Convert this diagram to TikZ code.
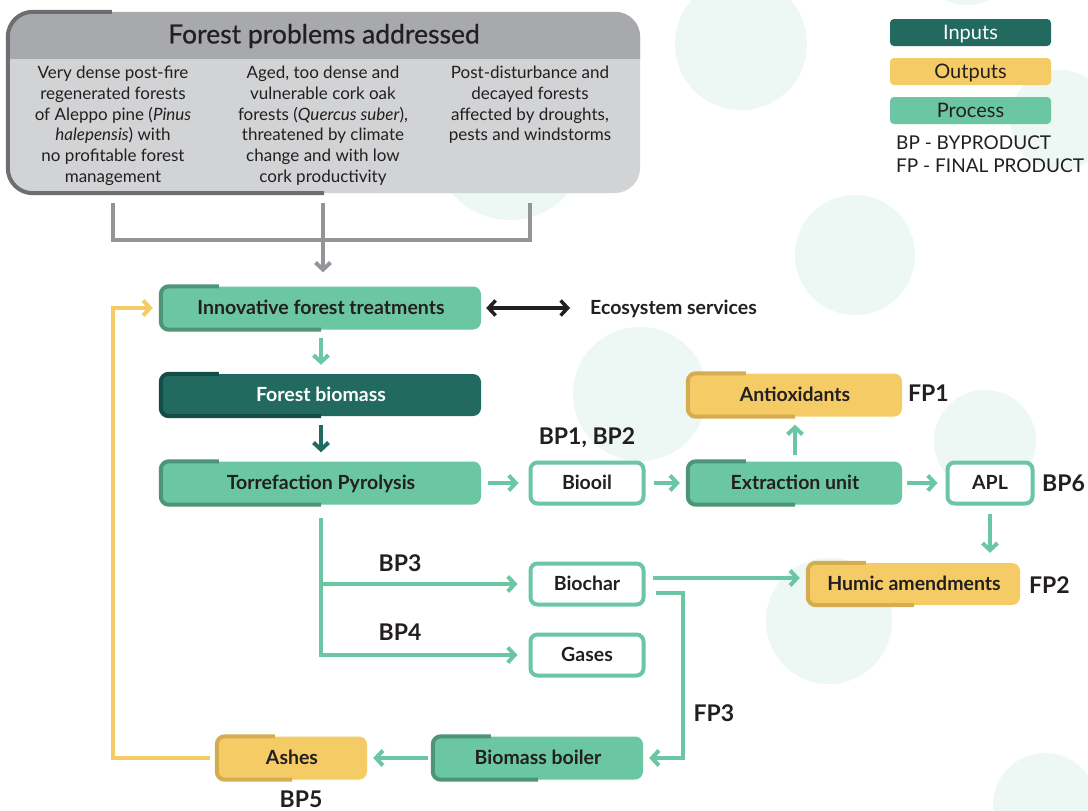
\documentclass[tikz,border=0pt]{standalone}
\usepackage{fontspec}
\setmainfont{Lato}
\newfontfamily\latomed[FakeBold=0.6]{Lato}
\usetikzlibrary{arrows.meta}
\definecolor{proc}{HTML}{6BC6A4}
\definecolor{procd}{HTML}{4E9479}
\definecolor{inp}{HTML}{22695F}
\definecolor{inpd}{HTML}{134E46}
\definecolor{outp}{HTML}{F5CB65}
\definecolor{outpd}{HTML}{D4AD52}
\definecolor{gh}{HTML}{A7A9AC}
\definecolor{gb}{HTML}{D1D3D4}
\definecolor{gd}{HTML}{6D6E71}
\definecolor{bgc}{HTML}{EDF7F3}
\definecolor{txt}{HTML}{231F20}
\definecolor{garr}{HTML}{939598}
\newcommand\nodeaccent[2]{%
  \draw[#2, line width=4pt, rounded corners=8pt]
    ([xshift=58pt]#1.north west) -- (#1.north west) -- (#1.south west) -- (#1.south);}
\begin{document}
\begin{tikzpicture}[x=1pt,y=-1pt,
  box/.style={rounded corners=8pt, inner sep=0pt, minimum height=43pt,
    text height=13.5pt, text depth=0pt,
    font=\fontsize{19.5}{23}\selectfont\bfseries, text=txt},
  procbox/.style={box, fill=proc},
  inbox/.style={box, fill=inp, text=white},
  outbox/.style={box, fill=outp},
  wbox/.style={box, fill=white, draw=proc, line width=4pt, rounded corners=7pt, minimum height=41pt},
  lbl/.style={inner sep=0pt, font=\fontsize{23}{27}\selectfont\bfseries, text=txt},
  legbox/.style={rounded corners=4pt, inner sep=0pt, minimum width=161pt, minimum height=27pt,
    text height=14pt, text depth=0pt,
    font=\fontsize{20}{24}\selectfont, text=txt},
  coltext/.style={inner sep=0pt, align=center, font=\fontsize{17}{20.7}\selectfont, text=txt, anchor=north},
  tipg/.style={-{Straight Barb[length=7pt,width=15pt]}},
  garrow/.style={draw=proc, line width=4pt, tipg},
  darrow/.style={draw=inp, line width=4pt, tipg},
  gline/.style={draw=garr, line width=4pt},
  yline/.style={draw=outp, line width=4pt},
  barrow/.style={draw=txt, line width=3.5pt, {Straight Barb[length=7pt,width=15pt]}-{Straight Barb[length=7pt,width=15pt]}},
]
\useasboundingbox (0,0) rectangle (1088,811);
\fill[white] (0,0) rectangle (1088,811);
% background circles
\begin{scope}
\clip (0,0) rectangle (1088,811);
\fill[bgc] (741,44) circle (66pt);
\fill[bgc] (1060,120) circle (50pt);
\fill[bgc] (967,-45) circle (50pt);
\fill[bgc] (510,144) circle (76pt);
\fill[bgc] (855,255) circle (60pt);
\fill[bgc] (640,394) circle (67pt);
\fill[bgc] (985,441) circle (51pt);
\fill[bgc] (829,621) circle (63pt);
\fill[bgc] (1045,805) circle (52pt);
\end{scope}

% problems box
\node[fill=gb, rounded corners=25pt, minimum width=632pt, minimum height=181pt, inner sep=0pt] (prob) at (324,102.5) {};
\begin{scope}
\clip (0,0) rectangle (650,58);
\fill[gh, rounded corners=25pt] (prob.north west) rectangle (prob.south east);
\end{scope}
\draw[gd, line width=4pt, rounded corners=25pt] ([xshift=104pt]prob.north west) -- (prob.north west) -- (prob.south west) -- (prob.south);
\node[inner sep=0pt, font=\fontsize{26.5}{30}\latomed, text=txt] (title) at (324,36) {Forest problems addressed};
\node[coltext] (col1) at (113,66) {Very dense post-fire\\regenerated forests\\of Aleppo pine (\textit{Pinus}\\\textit{halepensis}) with\\no profitable forest\\management};
\node[coltext] (col2) at (323,66) {Aged, too dense and\\vulnerable cork oak\\forests (\textit{Quercus suber}),\\threatened by climate\\change and with low\\cork productivity};
\node[coltext] (col3) at (530,66) {Post-disturbance and\\decayed forests\\affected by droughts,\\pests and windstorms};

% legend
\node[legbox, fill=inp, text=white] (lin) at (970.5,32.5) {Inputs};
\node[legbox, fill=outp] (lout) at (970.5,71.5) {Outputs};
\node[legbox, fill=proc] (lproc) at (970.5,110.5) {Process};
\node[inner sep=0pt, anchor=west, font=\fontsize{19}{22}\selectfont, text=txt] (lbp) at (896,143) {BP - BYPRODUCT};
\node[inner sep=0pt, anchor=west, font=\fontsize{19}{22}\selectfont, text=txt] (lfp) at (896,166) {FP - FINAL PRODUCT};

% nodes
\node[procbox, minimum width=320pt] (innov) at (321,308) {Innovative forest treatments};
\nodeaccent{innov}{procd}
\node[inbox, minimum width=320pt, minimum height=42pt] (biomass) at (321,395) {Forest biomass};
\nodeaccent{biomass}{inpd}
\node[procbox, minimum width=320pt] (torr) at (321,483) {Torrefaction Pyrolysis};
\nodeaccent{torr}{procd}
\node[wbox, minimum width=113pt] (biooil) at (587,483) {Biooil};
\node[procbox, minimum width=214pt] (extr) at (795,483) {Extraction unit};
\nodeaccent{extr}{procd}
\node[wbox, minimum width=85pt] (apl) at (990,483) {APL};
\node[outbox, minimum width=214pt] (antiox) at (795,395) {Antioxidants};
\nodeaccent{antiox}{outpd}
\node[outbox, minimum width=212pt, minimum height=42pt] (humic) at (914,584) {Humic amendments};
\nodeaccent{humic}{outpd}
\node[wbox, minimum width=113pt] (biochar) at (587,584) {Biochar};
\node[wbox, minimum width=113pt] (gases) at (587,655) {Gases};
\node[procbox, minimum width=210pt] (boiler) at (538,758) {Biomass boiler};
\nodeaccent{boiler}{procd}
\node[outbox, minimum width=150pt] (ashes) at (292,758) {Ashes};
\nodeaccent{ashes}{outpd}

% labels
\node[inner sep=0pt, anchor=west, font=\fontsize{19.5}{23}\selectfont\bfseries, text=txt] (eco) at (590,309) {Ecosystem services};
\node[lbl] (bp12) at (587,438) {BP1, BP2};
\node[lbl, anchor=west] (fp1) at (908,393) {FP1};
\node[lbl, anchor=west] (bp6) at (1042,483) {BP6};
\node[lbl] (bp3) at (400,563) {BP3};
\node[lbl] (bp4) at (400,632) {BP4};
\node[lbl, anchor=west] (fp2) at (1029,585) {FP2};
\node[lbl] (fp3) at (714,713) {FP3};
\node[lbl] (bp5) at (301,799) {BP5};

% gray connectors
\coordinate (j) at (323,240);
\coordinate (loopx) at (113,0);
\coordinate (bend) at (683,0);
\draw[gline] ([yshift=-10pt]prob.south -| col1) -- (j -| col1) -- (j -| col3) -- ([yshift=-10pt]prob.south -| col3);
\draw[gline] ([yshift=-10pt]prob.south -| j) -- (j);
\draw[gline, tipg, shorten >=14pt] (j) -- (j |- innov.north);

% ecosystem
\draw[barrow, shorten <=5pt, shorten >=20pt] (innov.east) -- (innov.east -| eco.west);

% green arrows
\draw[garrow, shorten <=8pt, shorten >=9pt] (innov.south) -- (biomass.north);
\draw[darrow, shorten <=9pt, shorten >=9pt] (biomass.south) -- (torr.north);
\draw[garrow, shorten <=7pt, shorten >=10pt] (torr.east) -- (biooil.west);
\draw[garrow, shorten <=8pt, shorten >=8pt] (biooil.east) -- (extr.west);
\draw[garrow, shorten <=6pt, shorten >=8pt] (extr.north) -- (antiox.south);
\draw[garrow, shorten <=5pt, shorten >=8pt] (extr.east) -- (apl.west);
\draw[garrow, shorten <=8pt, shorten >=10pt] (apl.south) -- (apl.south |- humic.north);
\draw[garrow, shorten <=13pt, shorten >=11pt] (torr.south) |- (gases.west);
\draw[garrow, shorten >=11pt] (torr.south |- biochar.west) -- (biochar.west);
\draw[garrow, shorten <=7pt, shorten >=8pt] ([yshift=6pt]biochar.east) -- ([yshift=6pt]biochar.east -| humic.west);
\draw[garrow, shorten >=6pt] ([xshift=10pt,yshift=-9pt]biochar.east) -| (bend |- boiler.east) -- (boiler.east);
\draw[garrow, shorten <=5pt, shorten >=6pt] (boiler.west) -- (ashes.east);
\draw[yline, tipg, shorten <=7pt, shorten >=8pt] (ashes.west) -| (loopx |- innov.west) -- (innov.west);
\end{tikzpicture}
\end{document}
